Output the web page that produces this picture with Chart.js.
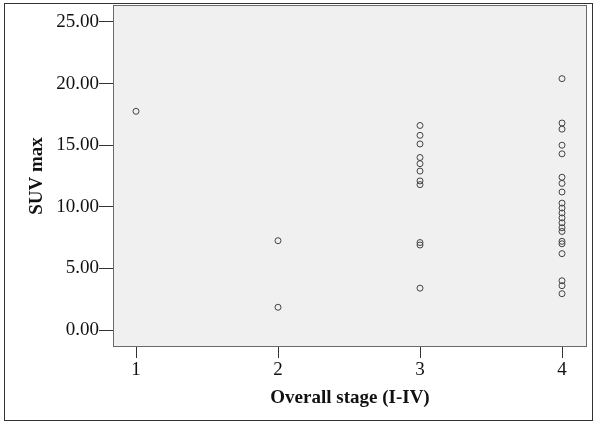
<!DOCTYPE html>
<html>
<head>
<meta charset="utf-8">
<title>SUV max by overall stage</title>
<script src="https://cdn.jsdelivr.net/npm/chart.js@4/dist/chart.umd.min.js"></script>
<style>
    html, body { margin: 0; padding: 0; background: #ffffff; }
    #wrap { width: 594px; height: 424px; position: relative; }
</style>
</head>
<body>
<div id="wrap"><canvas id="scatterChart" width="594" height="424"></canvas></div>
<script>
// 各分期的 SUV max 数值
const stage1Suv = [17.75];
const stage2Suv = [7.25, 1.85];
const stage3Suv = [16.6, 15.8, 15.1, 14.0, 13.5, 12.9, 12.1, 11.8, 7.1, 6.9, 3.4];
const stage4Suv = [20.4, 16.8, 16.3, 15.0, 14.3, 12.4, 11.9, 11.2, 10.3, 9.9, 9.5, 9.1,
                   8.7, 8.3, 8.0, 7.2, 7.0, 6.2, 4.0, 3.6, 2.95];

// 刻度
const xTicks = [1, 2, 3, 4];
const yTicks = [0, 5, 10, 15, 20, 25];

const axisTitleX = 'Overall stage (I-IV)';
const axisTitleY = 'SUV max';

// 组合成散点
function toPoints(stage, values) {
    return values.map(v => ({ x: stage, y: v }));
}
const points = [].concat(
    toPoints(1, stage1Suv),
    toPoints(2, stage2Suv),
    toPoints(3, stage3Suv),
    toPoints(4, stage4Suv)
);

/**
 * 绘图区背景、边框和外框
 */
const framePlugin = {
    id: 'frame',
    beforeDraw(chart) {
        const { ctx, chartArea } = chart;
        ctx.save();
        ctx.fillStyle = '#f0f0f0';
        ctx.fillRect(chartArea.left, chartArea.top,
            chartArea.right - chartArea.left, chartArea.bottom - chartArea.top);
        ctx.restore();
    },
    afterDraw(chart) {
        const { ctx, chartArea } = chart;
        ctx.save();
        ctx.strokeStyle = '#6a6a6a';
        ctx.lineWidth = 1;
        ctx.strokeRect(Math.round(chartArea.left) + 0.5, Math.round(chartArea.top) + 0.5,
            Math.round(chartArea.right - chartArea.left) - 1, Math.round(chartArea.bottom - chartArea.top) - 1);
        // 外框
        ctx.strokeStyle = '#333333';
        ctx.strokeRect(4.5, 3.5, 588, 417);
        ctx.restore();
    }
};

const serif = "'Liberation Serif', 'Times New Roman', serif";

const ctx = document.getElementById('scatterChart').getContext('2d');
const chart = new Chart(ctx, {
    type: 'scatter',
    data: {
        datasets: [{
            data: points,
            pointStyle: 'circle',
            pointRadius: 3,
            pointBorderWidth: 1,
            pointBorderColor: '#444444',
            pointBackgroundColor: 'rgba(0,0,0,0)'
        }]
    },
    options: {
        responsive: false,
        animation: false,
        events: [],
        layout: { padding: { left: 0, top: 4, right: 7, bottom: 0 } },
        plugins: {
            legend: { display: false },
            tooltip: { enabled: false }
        },
        scales: {
            x: {
                type: 'linear',
                min: 0.838,
                max: 4.176,
                afterBuildTicks: scale => { scale.ticks = xTicks.map(v => ({ value: v })); },
                afterFit: scale => { scale.height = 77; },
                border: { display: false },
                grid: {
                    drawOnChartArea: false,
                    drawTicks: true,
                    tickLength: 11,
                    color: '#333333'
                },
                ticks: {
                    color: '#111111',
                    padding: 1,
                    maxRotation: 0,
                    font: { family: serif, size: 19 },
                    callback: v => String(v)
                },
                title: {
                    display: true,
                    text: axisTitleX,
                    color: '#111111',
                    font: { family: serif, size: 19, weight: 'bold' },
                    padding: { top: 0, bottom: 14.5 }
                }
            },
            y: {
                type: 'linear',
                min: -1.375,
                max: 26.375,
                afterBuildTicks: scale => { scale.ticks = yTicks.map(v => ({ value: v })); },
                afterFit: scale => { scale.width = 113; },
                border: { display: false },
                grid: {
                    drawOnChartArea: false,
                    drawTicks: true,
                    tickLength: 14,
                    color: '#333333'
                },
                ticks: {
                    color: '#111111',
                    padding: 0,
                    font: { family: serif, size: 19, lineHeight: 0.4 },
                    callback: v => Number(v).toFixed(2)
                },
                title: {
                    display: true,
                    text: axisTitleY,
                    color: '#111111',
                    font: { family: serif, size: 19, weight: 'bold' },
                    padding: { top: 26, bottom: 0 }
                }
            }
        }
    },
    plugins: [framePlugin]
});
</script>
</body>
</html>
